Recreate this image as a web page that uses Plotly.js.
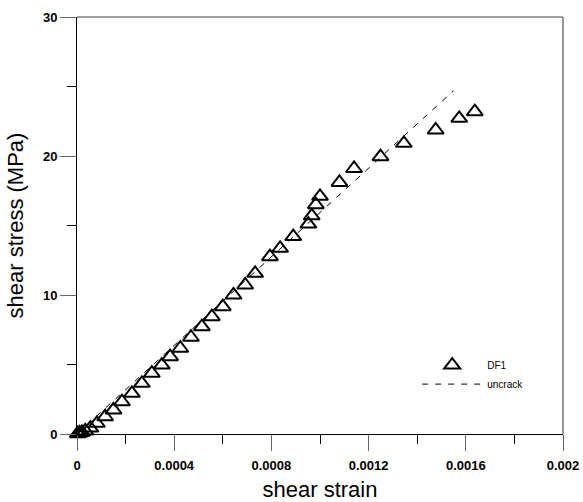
<!DOCTYPE html>
<html>
<head>
<meta charset="utf-8">
<script src="https://cdn.plot.ly/plotly-3.0.1.min.js"></script>
<style>html,body{margin:0;padding:0;background:#fff;}#chart{width:583px;height:502px;}</style>
</head>
<body>
<div id="chart"></div>
<script>
// DF1 measured points (shear strain, shear stress MPa)
var df1Strain = [0.000003, 0.00001, 0.00002, 0.000034, 0.000055, 0.000082, 0.000116, 0.00015, 0.000185, 0.000226,
  0.000267, 0.000308, 0.000349, 0.000383, 0.000425, 0.000469, 0.000514, 0.000555, 0.0006, 0.000644,
  0.000692, 0.000733, 0.000794, 0.000836, 0.00089, 0.000952, 0.000966, 0.000983, 0.001, 0.00108,
  0.00114, 0.001249, 0.001345, 0.001476, 0.001573, 0.001637];
var df1Stress = [0.02, 0.08, 0.12, 0.22, 0.43, 0.77, 1.24, 1.73, 2.32, 2.93,
  3.65, 4.37, 4.96, 5.56, 6.17, 6.96, 7.72, 8.44, 9.16, 10.0,
  10.72, 11.56, 12.76, 13.36, 14.2, 15.1, 15.7, 16.5, 17.1, 18.1,
  19.1, 19.95, 20.91, 21.87, 22.71, 23.19];
// uncracked reference line
var uncrackStrain = [0, 0.00155];
var uncrackStress = [0, 24.7];
// tick labels
var xTickVals = [0, 0.0004, 0.0008, 0.0012, 0.0016, 0.002];
var xTickText = ['0', '0.0004', '0.0008', '0.0012', '0.0016', '0.002'];
var yTickVals = [0, 10, 20, 30];
var yTickText = ['0', '10', '20', '30'];

var FONT = 'Liberation Sans, Arial, sans-serif';

var traces = [
  {
    x: df1Strain, y: df1Stress, type: 'scatter', mode: 'markers', name: 'DF1',
    marker: {symbol: 'triangle-up-open', size: 14, color: '#000', line: {width: 2, color: '#000'}},
    cliponaxis: false
  },
  {
    x: uncrackStrain, y: uncrackStress, type: 'scatter', mode: 'lines', name: 'uncrack',
    line: {color: '#000', width: 1, dash: '6px,7px'}
  }
];

var axisCommon = {
  showline: true, linecolor: '#000', linewidth: 1,
  ticks: 'outside', ticklen: 16, tickwidth: 1, tickcolor: '#666',
  showgrid: false, zeroline: false, tickmode: 'array',
  tickfont: {family: FONT, size: 13, color: '#000', weight: 700}
};

var layout = {
  width: 583, height: 502,
  margin: {l: 77, r: 20, t: 17, b: 68},
  paper_bgcolor: '#fff', plot_bgcolor: '#fff',
  font: {family: FONT, color: '#000'},
  showlegend: true,
  legend: {
    x: 0.70, y: 0.20, xanchor: 'left', yanchor: 'top',
    bgcolor: 'rgba(0,0,0,0)', borderwidth: 0,
    itemwidth: 60,
    font: {family: 'Liberation Sans Narrow, Liberation Sans, Arial, sans-serif', size: 10, color: '#000'}
  },
  xaxis: Object.assign({}, axisCommon, {
    range: [0, 0.002],
    tickvals: xTickVals, ticktext: xTickText,
    ticklabelstandoff: 3,
    minor: {tick0: 0, dtick: 0.0002, ticks: 'outside', ticklen: 9, tickcolor: '#000', tickwidth: 1, showgrid: false},
    title: {text: 'shear strain', font: {family: FONT, size: 22, color: '#000'}}
  }),
  yaxis: Object.assign({}, axisCommon, {
    range: [0, 30],
    tickvals: yTickVals, ticktext: yTickText,
    minor: {tick0: 0, dtick: 5, ticks: 'outside', ticklen: 9, tickcolor: '#000', tickwidth: 1, showgrid: false},
    title: {text: 'shear stress (MPa)', font: {family: FONT, size: 22, color: '#000'}}
  }),
  shapes: [
    {type: 'line', xref: 'paper', yref: 'paper', x0: 0, x1: 1, y0: 1, y1: 1, line: {color: '#808080', width: 1.5}},
    {type: 'line', xref: 'paper', yref: 'paper', x0: 1, x1: 1, y0: 0, y1: 1, line: {color: '#333', width: 1}}
  ]
};

Plotly.newPlot('chart', traces, layout, {displayModeBar: false, staticPlot: true});
</script>
</body>
</html>
